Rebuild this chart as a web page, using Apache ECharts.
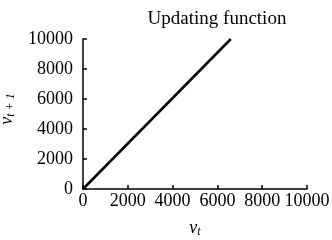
<!DOCTYPE html>
<html>
<head>
<meta charset="utf-8">
<script src="https://cdn.jsdelivr.net/npm/echarts@6/dist/echarts.min.js"></script>
<style>
  html, body { margin: 0; padding: 0; background: #fff; }
  #chart { width: 332px; height: 240px; }
</style>
</head>
<body>
<div id="chart"></div>
<script>
// updating function v(t+1) vs v(t)
var vt = [0, 6600];
var vt1 = [0, 10000];
var xTicks = [0, 2000, 4000, 6000, 8000, 10000];
var yTicks = [0, 2000, 4000, 6000, 8000, 10000];

var font = 'Liberation Serif';
var chart = echarts.init(document.getElementById('chart'));

var pts = vt.map(function (x, i) { return [x, vt1[i]]; });

var option = {
  animation: false,
  title: {
    text: 'Updating function',
    left: 212,
    top: 5,
    textAlign: 'center',
    textStyle: { fontFamily: font, fontSize: 19, fontWeight: 'normal', color: '#000' }
  },
  grid: { left: 83, right: 25, top: 39, bottom: 51, outerBoundsMode: 'none', containLabel: false },
  xAxis: {
    type: 'value',
    min: xTicks[0], max: xTicks[xTicks.length - 1], interval: xTicks[1] - xTicks[0],
    name: '{v|v}{s|t}',
    nameLocation: 'middle',
    nameGap: 29,
    nameTextStyle: {
      rich: {
        v: { fontFamily: font, fontStyle: 'italic', fontSize: 18, color: '#000' },
        s: { fontFamily: font, fontStyle: 'italic', fontSize: 12, color: '#000', padding: [8, 0, 0, 0] }
      }
    },
    axisLine: { lineStyle: { color: '#000', width: 1.5 } },
    axisTick: { inside: true, length: 4, lineStyle: { color: '#000', width: 1.5 } },
    splitLine: { show: false },
    axisLabel: {
      fontFamily: font, fontSize: 18, color: '#000', margin: 3,
      formatter: function (v) { return String(v); }
    }
  },
  yAxis: {
    type: 'value',
    min: yTicks[0], max: yTicks[yTicks.length - 1], interval: yTicks[1] - yTicks[0],
    name: '{v|v}{s|t + 1}',
    nameLocation: 'middle',
    nameGap: 58,
    nameTextStyle: {
      padding: [0, 0, 0, 10],
      rich: {
        v: { fontFamily: font, fontStyle: 'italic', fontSize: 18, color: '#000' },
        s: { fontFamily: font, fontStyle: 'italic', fontSize: 12, color: '#000', padding: [8, 0, 0, 0] }
      }
    },
    axisLine: { show: true, lineStyle: { color: '#000', width: 1.5 } },
    axisTick: { show: true, inside: true, length: 4, lineStyle: { color: '#000', width: 1.5 } },
    splitLine: { show: false },
    axisLabel: {
      fontFamily: font, fontSize: 18, color: '#000', margin: 10,
      formatter: function (v) { return String(v); }
    }
  },
  series: [{
    type: 'line',
    data: pts,
    symbol: 'none',
    lineStyle: { color: '#000', width: 2.5 }
  }]
};
chart.setOption(option);
</script>
</body>
</html>
